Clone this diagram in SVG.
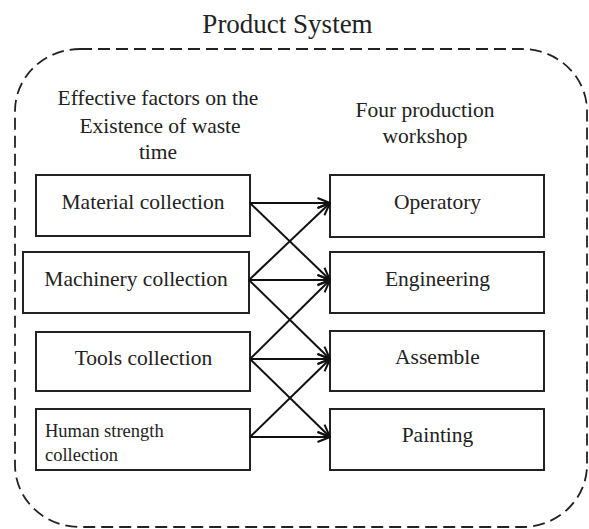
<svg xmlns="http://www.w3.org/2000/svg" width="589" height="529" viewBox="0 0 589 529">
  <style>
    .box { fill: #ffffff; stroke: #222222; stroke-width: 2; }
    .lbl { font-family: "Liberation Serif", "Times New Roman", serif; fill: #222222; }
    .c { text-anchor: middle; }
    .link { stroke: #111111; stroke-width: 2; fill: none; marker-end: url(#vhead); }
  </style>
  <defs>
    <marker id="vhead" viewBox="0 0 14 12" refX="13.5" refY="6" markerWidth="14" markerHeight="12" markerUnits="userSpaceOnUse" orient="auto">
      <path d="M1,1 L13.5,6 L1,11" fill="none" stroke="#111111" stroke-width="2" stroke-linejoin="round"/>
    </marker>
  </defs>

  <rect width="589" height="529" fill="#ffffff"/>

  <!-- system boundary -->
  <g id="system">
    <rect x="15" y="49" width="572" height="478" rx="65" ry="62" fill="none" stroke="#222222" stroke-width="1.8" stroke-dasharray="12 6"/>
    <text class="lbl c" x="287.5" y="33" font-size="27">Product System</text>
  </g>

  <!-- column headings -->
  <g id="heading-factors" class="lbl c" font-size="21.5">
    <text x="158" y="105">Effective factors on the</text>
    <text x="160" y="133">Existence of waste</text>
    <text x="158" y="159">time</text>
  </g>
  <g id="heading-workshops" class="lbl c" font-size="21.5">
    <text x="425" y="117">Four production</text>
    <text x="425" y="143">workshop</text>
  </g>

  <!-- factor nodes -->
  <g id="material">
    <rect class="box" x="36" y="175" width="214" height="61"/>
    <text class="lbl c" x="143" y="209" font-size="21.5">Material collection</text>
  </g>
  <g id="machinery">
    <rect class="box" x="23" y="252" width="226" height="61"/>
    <text class="lbl c" x="136" y="286" font-size="21.5">Machinery collection</text>
  </g>
  <g id="tools">
    <rect class="box" x="36" y="332" width="214" height="59"/>
    <text class="lbl c" x="143.5" y="365" font-size="21.5">Tools collection</text>
  </g>
  <g id="human">
    <rect class="box" x="36" y="409" width="214" height="61"/>
    <text class="lbl" x="45" y="437" font-size="18.5">Human strength</text>
    <text class="lbl" x="45" y="461" font-size="18.5">collection</text>
  </g>

  <!-- workshop nodes -->
  <g id="operatory">
    <rect class="box" x="330" y="175" width="214" height="62"/>
    <text class="lbl c" x="437.5" y="209" font-size="21.5">Operatory</text>
  </g>
  <g id="engineering">
    <rect class="box" x="330" y="252" width="214" height="61"/>
    <text class="lbl c" x="437.5" y="286" font-size="21.5">Engineering</text>
  </g>
  <g id="assemble">
    <rect class="box" x="330" y="331" width="214" height="60"/>
    <text class="lbl c" x="437.5" y="364" font-size="21.5">Assemble</text>
  </g>
  <g id="painting">
    <rect class="box" x="330" y="409" width="214" height="61"/>
    <text class="lbl c" x="437.5" y="442" font-size="21.5">Painting</text>
  </g>

  <!-- connectors -->
  <g id="connectors">
    <line class="link" x1="250" y1="203" x2="330" y2="203"/>
    <line class="link" x1="250" y1="203" x2="330" y2="280"/>
    <line class="link" x1="249" y1="280" x2="330" y2="203"/>
    <line class="link" x1="249" y1="280" x2="330" y2="280"/>
    <line class="link" x1="249" y1="280" x2="330" y2="359"/>
    <line class="link" x1="250" y1="359" x2="330" y2="280"/>
    <line class="link" x1="250" y1="359" x2="330" y2="359"/>
    <line class="link" x1="250" y1="359" x2="330" y2="437"/>
    <line class="link" x1="250" y1="437" x2="330" y2="359"/>
    <line class="link" x1="250" y1="437" x2="330" y2="437"/>
  </g>
</svg>
